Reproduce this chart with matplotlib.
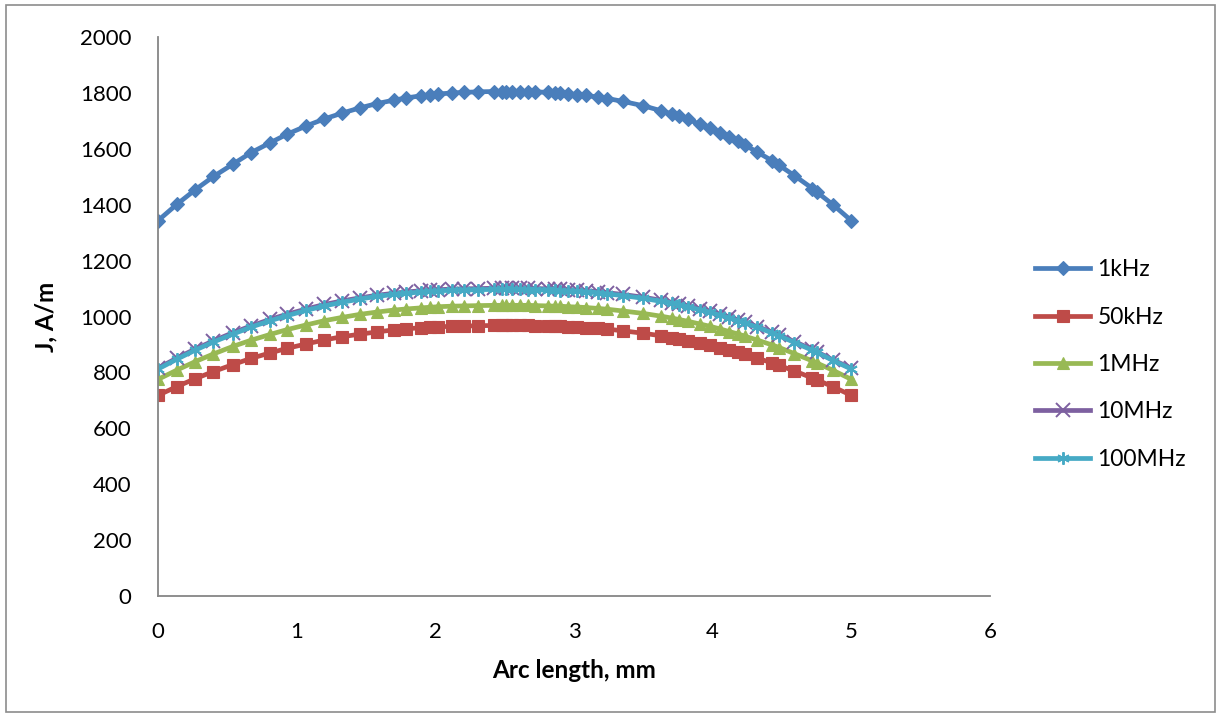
import matplotlib
matplotlib.use("Agg")
import matplotlib.pyplot as plt
from matplotlib.patches import Rectangle

plt.rcParams["font.family"] = ["Lato", "DejaVu Sans"]

# arc-length positions of the mesh nodes along the edge, mm
arc_mm = [
    0.00, 0.135, 0.27, 0.40, 0.54, 0.67, 0.81, 0.93, 1.07, 1.20,
    1.33, 1.46, 1.58, 1.70, 1.79, 1.90, 1.96, 2.02, 2.12, 2.21,
    2.31, 2.42, 2.48, 2.51, 2.55, 2.61, 2.67, 2.72, 2.81, 2.86,
    2.90, 2.96, 3.02, 3.09, 3.17, 3.24, 3.35, 3.50, 3.63, 3.71,
    3.76, 3.82, 3.91, 3.98, 4.05, 4.12, 4.18, 4.23, 4.32, 4.43,
    4.48, 4.59, 4.72, 4.75, 4.87, 5.00,
]

# surface current density, A/m
j_1khz = [
    1343, 1401, 1454, 1501, 1545, 1586, 1622, 1652, 1682, 1707,
    1728, 1747, 1762, 1774, 1782, 1790, 1793, 1796, 1800, 1802,
    1804, 1805, 1805, 1805, 1805, 1805, 1804, 1804, 1802, 1801,
    1799, 1797, 1794, 1791, 1785, 1780, 1770, 1754, 1736, 1724,
    1716, 1705, 1688, 1674, 1658, 1642, 1627, 1614, 1589, 1557,
    1541, 1504, 1458, 1446, 1399, 1343,
]
j_50khz = [
    718, 749, 778, 803, 828, 850, 870, 886, 902, 916,
    928, 937, 945, 952, 956, 960, 962, 963, 965, 966,
    967, 968, 968, 968, 968, 968, 968, 967, 966, 966,
    965, 964, 962, 960, 958, 955, 949, 940, 931, 924,
    920, 914, 905, 897, 889, 880, 872, 865, 851, 834,
    825, 805, 780, 774, 748, 718,
]
j_1mhz = [
    775, 808, 839, 866, 893, 915, 936, 953, 970, 985,
    997, 1008, 1016, 1023, 1027, 1031, 1033, 1035, 1037, 1038,
    1039, 1040, 1040, 1040, 1040, 1040, 1040, 1039, 1038, 1037,
    1037, 1035, 1034, 1032, 1029, 1026, 1020, 1011, 1001, 994,
    989, 983, 973, 965, 956, 946, 938, 930, 916, 898,
    889, 867, 841, 834, 807, 775,
]
j_10mhz = [
    815, 851, 884, 913, 942, 966, 990, 1008, 1027, 1043,
    1056, 1067, 1076, 1083, 1088, 1092, 1094, 1096, 1098, 1099,
    1100, 1101, 1101, 1101, 1101, 1101, 1101, 1100, 1099, 1098,
    1098, 1096, 1094, 1092, 1089, 1085, 1079, 1069, 1058, 1050,
    1045, 1038, 1027, 1018, 1008, 998, 988, 980, 964, 944,
    934, 910, 882, 874, 844, 815,
]
j_100mhz = [
    812, 847, 880, 909, 937, 962, 985, 1003, 1022, 1038,
    1051, 1063, 1072, 1079, 1083, 1088, 1090, 1092, 1094, 1095,
    1096, 1097, 1097, 1097, 1097, 1097, 1096, 1096, 1095, 1094,
    1093, 1092, 1090, 1088, 1085, 1081, 1075, 1065, 1054, 1047,
    1042, 1035, 1024, 1015, 1005, 995, 985, 977, 962, 941,
    931, 907, 879, 872, 842, 812,
]

series = [
    ("1kHz", j_1khz, "#4A7EBB", "D", 7),
    ("50kHz", j_50khz, "#BE4B48", "s", 8),
    ("1MHz", j_1mhz, "#98B954", "^", 8),
    ("10MHz", j_10mhz, "#7D60A0", "x", 10),
    ("100MHz", j_100mhz, "#46AAC5", (6, 2, 0), 9),
]

fig = plt.figure(figsize=(12.21, 7.16), dpi=100)
ax = fig.add_axes([0.1294, 0.1676, 0.6814, 0.7807])

for label, vals, colour, marker, ms in series:
    ax.plot(arc_mm, vals, color=colour, linewidth=3.4, marker=marker,
            markersize=ms, markeredgewidth=1.4 if marker in ("x", (6, 2, 0)) else 0.8,
            markeredgecolor=colour, label=label)

ax.set_xlim(0, 6)
ax.set_ylim(0, 2000)
ax.set_xticks(range(0, 7))
ax.set_yticks(range(0, 2001, 200))
ax.tick_params(length=0, labelsize=16, pad=19, colors="black")
for side in ("top", "right"):
    ax.spines[side].set_visible(False)
for side in ("left", "bottom"):
    ax.spines[side].set_color("#868686")
    ax.spines[side].set_linewidth(1.3)

ax.set_xlabel("Arc length, mm", fontsize=17.5, fontweight="bold", labelpad=12)
ax.set_ylabel("J, A/m", fontsize=17.5, fontweight="bold", labelpad=16)

fig.legend(loc="upper left", bbox_to_anchor=(0.848, 0.638), frameon=False,
           fontsize=16.5, handlelength=2.4, handletextpad=0.3, labelspacing=1.15,
           borderpad=0, borderaxespad=0)

# chart-area border
fig.add_artist(Rectangle((0.005, 0.005), 0.99, 0.988, transform=fig.transFigure,
                         fill=False, edgecolor="#8C8C8C", linewidth=1.2))

fig.savefig("out.png", dpi=100)
plt.close(fig)
